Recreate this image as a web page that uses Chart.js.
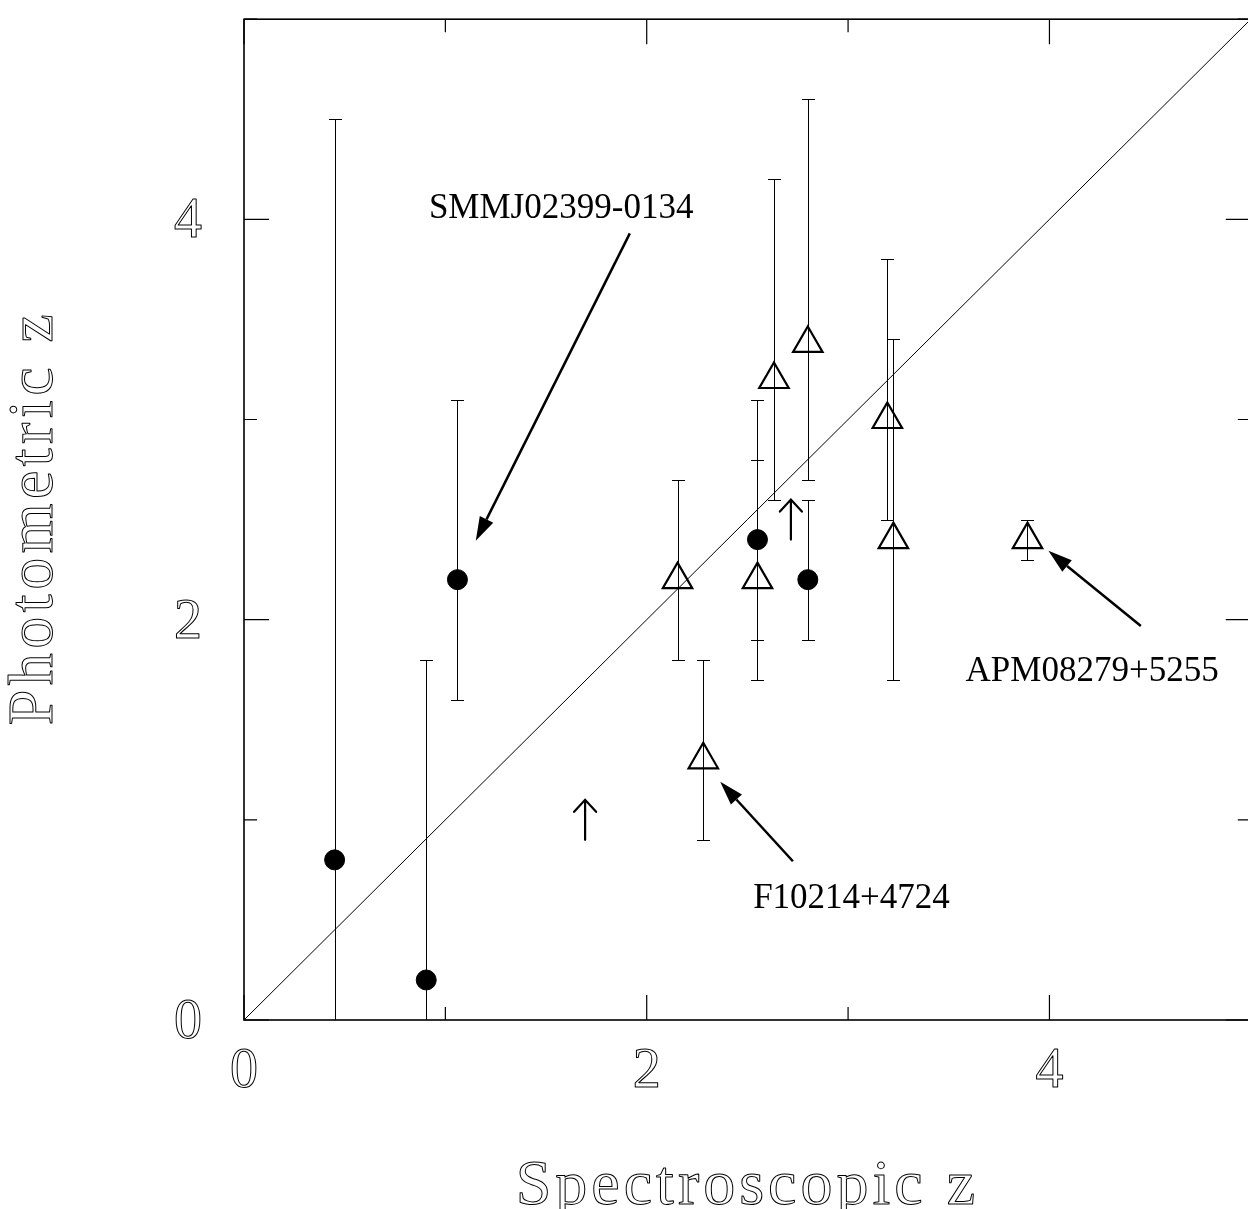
<!DOCTYPE html>
<html>
<head>
<meta charset="utf-8">
<script src="https://cdn.jsdelivr.net/npm/chart.js@4/dist/chart.umd.min.js"></script>
<style>
  html, body { margin: 0; padding: 0; background: #fff; overflow: hidden; }
  canvas { display: block; }
</style>
</head>
<body>
<canvas id="c" width="1270" height="1209" style="width:1270px;height:1209px"></canvas>
<script>
// ---- Data ----
// Filled circles
const circX  = [0.45, 0.905, 1.06, 2.55, 2.80];
const circY  = [0.80, 0.20, 2.20, 2.40, 2.20];
const circHi = [4.50, 1.80, 3.10, 3.10, 2.60];
const circLo = [0.00, 0.00, 1.60, 1.70, 1.90];
// Open triangles
const triX  = [2.153, 2.281, 2.55, 2.632, 2.80, 3.195, 3.225, 3.891];
const triY  = [2.20, 1.30, 2.20, 3.20, 3.38, 3.00, 2.40, 2.40];
const triHi = [2.70, 1.80, 2.80, 4.20, 4.60, 3.80, 3.40, 2.50];
const triLo = [1.80, 0.90, 1.90, 2.60, 2.70, 2.50, 1.70, 2.30];
// Lower limits (up arrows)
const limX = [1.694, 2.716];
const limY = [0.90, 2.40];
// One-to-one line
const lineX = [0, 5];
const lineY = [0, 5];
// Axis ticks and titles
const xTickLabels = ['0', '2', '4'];
const yTickLabels = ['0', '2', '4'];
const xTitle = 'Spectroscopic z';
const yTitle = 'Photometric z';
// Annotations: label, text anchor (centre, baseline) and arrow tail -> tip, in data units
const annText  = ['SMMJ02399-0134', 'F10214+4724', 'APM08279+5255'];
const annTextX = [1.575, 3.017, 4.212];
const annTextY = [4.005, 0.56, 1.695];
const annFromX = [1.916, 2.726, 4.454];
const annFromY = [3.93, 0.793, 1.968];
const annToX   = [1.151, 2.365, 3.995];
const annToY   = [2.394, 1.19, 2.344];

const toPts = (xs, ys) => xs.map((v, i) => ({ x: v, y: ys[i] }));

const SERIF = '"Liberation Serif", "Times New Roman", serif';

// thin outlined lettering, like a stroked plotter font
function outlineText(ctx, s, px, py, size, spacing, rot, align) {
  ctx.save();
  ctx.translate(px, py);
  if (rot) ctx.rotate(rot);
  ctx.font = size + 'px ' + SERIF;
  ctx.letterSpacing = spacing + 'px';
  ctx.textAlign = align;
  ctx.textBaseline = 'alphabetic';
  ctx.lineWidth = 1;
  ctx.strokeStyle = '#000';
  ctx.lineJoin = 'round';
  ctx.strokeText(s, align === 'center' ? spacing / 2 : 0, 0);
  ctx.restore();
}

const errorBars = {
  id: 'errorBars',
  beforeDatasetsDraw(chart) {
    const { ctx, chartArea: a, scales: { x, y } } = chart;
    ctx.save();
    ctx.beginPath();
    ctx.rect(a.left, a.top, a.right - a.left, a.bottom - a.top);
    ctx.clip();
    ctx.strokeStyle = '#000';
    ctx.lineWidth = 1;
    const cap = 6.5;
    const draw = (xs, his, los) => {
      xs.forEach((xv, i) => {
        const px = Math.round(x.getPixelForValue(xv)) + 0.5;
        const ph = Math.round(y.getPixelForValue(his[i])) + 0.5;
        const pl = Math.round(y.getPixelForValue(los[i])) + 0.5;
        ctx.beginPath();
        ctx.moveTo(px, ph); ctx.lineTo(px, pl);
        ctx.moveTo(px - cap, ph); ctx.lineTo(px + cap, ph);
        ctx.moveTo(px - cap, pl); ctx.lineTo(px + cap, pl);
        ctx.stroke();
      });
    };
    draw(circX, circHi, circLo);
    draw(triX, triHi, triLo);
    ctx.restore();
  }
};

const overlay = {
  id: 'overlay',
  afterDatasetsDraw(chart) {
    const { ctx, chartArea: a, scales: { x, y } } = chart;
    ctx.save();
    // frame
    ctx.strokeStyle = '#000';
    ctx.lineWidth = 1.6;
    ctx.strokeRect(a.left, a.top, a.right - a.left, a.bottom - a.top);
    // inward ticks + tick labels
    ctx.lineWidth = 1.2;
    x.ticks.forEach(t => {
      const px = x.getPixelForValue(t.value);
      const len = (Math.round(t.value) % 2 === 0) ? 25 : 13;
      ctx.beginPath();
      ctx.moveTo(px, a.bottom); ctx.lineTo(px, a.bottom - len);
      ctx.moveTo(px, a.top); ctx.lineTo(px, a.top + len);
      ctx.stroke();
      const lab = String(t.value);
      if (xTickLabels.includes(lab)) outlineText(ctx, lab, px, a.bottom + 67, 56, 0, 0, 'center');
    });
    y.ticks.forEach(t => {
      const py = y.getPixelForValue(t.value);
      const len = (Math.round(t.value) % 2 === 0) ? 25 : 13;
      ctx.beginPath();
      ctx.moveTo(a.left, py); ctx.lineTo(a.left + len, py);
      ctx.moveTo(a.right, py); ctx.lineTo(a.right - len, py);
      ctx.stroke();
      const lab = String(t.value);
      if (yTickLabels.includes(lab)) outlineText(ctx, lab, a.left - 42, py + 18, 56, 0, 0, 'right');
    });
    // lower-limit arrows
    ctx.lineWidth = 2.2;
    ctx.lineCap = 'round';
    limX.forEach((xv, i) => {
      const px = x.getPixelForValue(xv);
      const pb = y.getPixelForValue(limY[i]);
      const pt = pb - 40;
      ctx.beginPath();
      ctx.moveTo(px, pb); ctx.lineTo(px, pt);
      ctx.moveTo(px - 11, pt + 12); ctx.lineTo(px, pt); ctx.lineTo(px + 11, pt + 12);
      ctx.stroke();
    });
    // annotation arrows and labels
    ctx.lineWidth = 2.5;
    ctx.lineCap = 'butt';
    ctx.fillStyle = '#000';
    annText.forEach((s, i) => {
      const x0 = x.getPixelForValue(annFromX[i]), y0 = y.getPixelForValue(annFromY[i]);
      const x1 = x.getPixelForValue(annToX[i]),   y1 = y.getPixelForValue(annToY[i]);
      const ang = Math.atan2(y1 - y0, x1 - x0);
      const hl = 24, hw = 7.5;
      const bx = x1 - hl * Math.cos(ang), by = y1 - hl * Math.sin(ang);
      ctx.beginPath();
      ctx.moveTo(x0, y0); ctx.lineTo(bx, by);
      ctx.stroke();
      ctx.beginPath();
      ctx.moveTo(x1, y1);
      ctx.lineTo(bx + hw * Math.sin(ang), by - hw * Math.cos(ang));
      ctx.lineTo(bx - hw * Math.sin(ang), by + hw * Math.cos(ang));
      ctx.closePath();
      ctx.fill();
      ctx.font = '35px ' + SERIF;
      ctx.textAlign = 'center';
      ctx.textBaseline = 'alphabetic';
      ctx.fillText(s, x.getPixelForValue(annTextX[i]), y.getPixelForValue(annTextY[i]));
    });
    // axis titles
    outlineText(ctx, xTitle, (a.left + a.right) / 2 - 2, 1204, 64, 4, 0, 'center');
    outlineText(ctx, yTitle, 52, (a.top + a.bottom) / 2, 64, 4.5, -Math.PI / 2, 'center');
    ctx.restore();
  }
};

new Chart(document.getElementById('c'), {
  type: 'scatter',
  data: {
    datasets: [
      {
        label: 'z_phot = z_spec',
        type: 'line',
        data: toPts(lineX, lineY),
        borderColor: '#000',
        borderWidth: 1,
        pointRadius: 0,
        fill: false,
        tension: 0
      },
      {
        label: 'circles',
        data: toPts(circX, circY),
        pointStyle: 'circle',
        pointRadius: 10,
        backgroundColor: '#000',
        borderColor: '#000',
        borderWidth: 1
      },
      {
        label: 'triangles',
        data: toPts(triX, triY),
        pointStyle: 'triangle',
        pointRadius: 17,
        backgroundColor: 'rgba(0,0,0,0)',
        borderColor: '#000',
        borderWidth: 2.2
      }
    ]
  },
  options: {
    responsive: false,
    animation: false,
    events: [],
    layout: { padding: { top: 11.25, right: 13.5, left: 0, bottom: 0 } },
    plugins: { legend: { display: false }, tooltip: { enabled: false } },
    scales: {
      x: {
        type: 'linear',
        min: 0, max: 5,
        grid: { display: false },
        border: { display: false },
        ticks: { stepSize: 1, display: false, autoSkip: false },
        afterFit: s => { s.height = 189; s.paddingLeft = 0; s.paddingRight = 0; }
      },
      y: {
        type: 'linear',
        min: 0, max: 5,
        grid: { display: false },
        border: { display: false },
        ticks: { stepSize: 1, display: false, autoSkip: false },
        afterFit: s => { s.width = 244; s.paddingTop = 0; s.paddingBottom = 0; }
      }
    }
  },
  plugins: [errorBars, overlay]
});
</script>
</body>
</html>
